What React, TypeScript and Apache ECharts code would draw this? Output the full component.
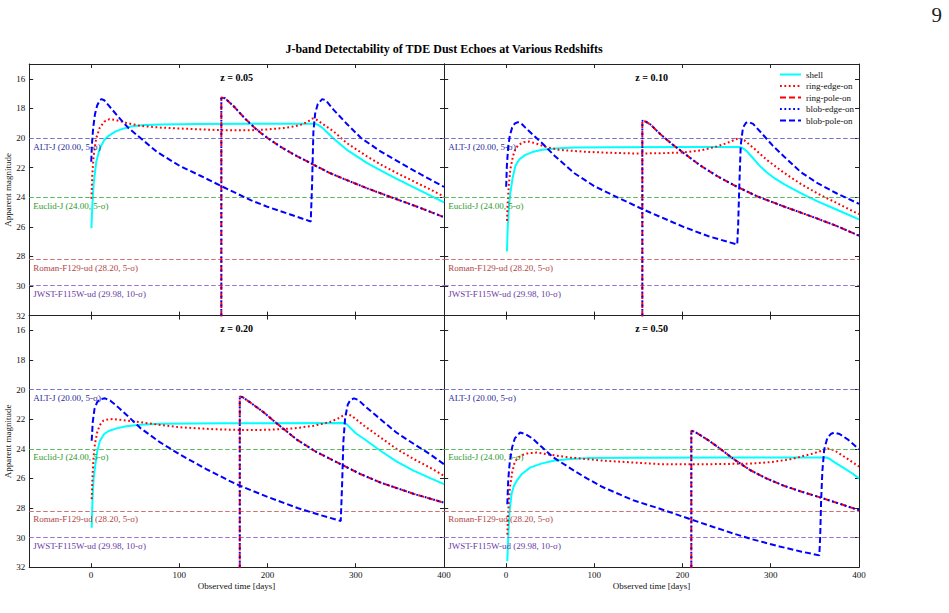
import React, { useEffect, useRef } from 'react';
import * as echarts from 'echarts';

// ---------- tick values & labels ----------
const xTicks = [0, 100, 200, 300, 400];
const yTicks = [16, 18, 20, 22, 24, 26, 28, 30, 32];
const redshiftLabels = ['z = 0.05', 'z = 0.10', 'z = 0.20', 'z = 0.50'];
const seriesNames = ['shell', 'ring-edge-on', 'ring-pole-on', 'blob-edge-on', 'blob-pole-on'];

// ---------- detection thresholds ----------
const thresholdNames = ['ALT-J', 'Euclid-J', 'Roman-F129-ud', 'JWST-F115W-ud'];
const thresholdValues = [20.0, 24.0, 28.2, 29.98];
const thresholdSigma = ['5-σ', '5-σ', '5-σ', '10-σ'];

// ---------- z = 0.05 ----------
const shell005 = [[0.5,26.1],[1.5,24.6],[3,23.1],[6,21.6],[10,20.7],[15,20.15],[20,19.85],[28,19.55],[35,19.4],[45,19.22],[60,19.12],[80,19.08],[120,19.05],[200,19.03],[253,19.03],[257,19.1],[262,19.3],[268,19.65],[275,20.05],[290,20.8],[313,21.7],[335,22.4],[351,22.9],[375,23.6],[400,24.35]];
const ringEdge005 = [[0.5,24.1],[1.5,22.5],[3,21.2],[6,20.0],[10,19.3],[15,18.9],[21,18.72],[28,18.78],[40,18.98],[56,19.18],[80,19.3],[101,19.36],[150,19.48],[180,19.48],[200,19.42],[218,19.33],[230,19.22],[238,19.1],[245,18.92],[251,18.68],[256,18.78],[265,19.15],[275,19.56],[290,20.35],[313,21.25],[330,21.85],[351,22.5],[375,23.2],[400,23.95]];
const ringPole005 = [[147.7,40],[147.7,17.26],[152,17.32],[162,17.87],[175,18.72],[188,19.45],[200,20.0],[215,20.6],[230,21.12],[249,21.7],[270,22.35],[290,22.85],[313,23.4],[340,24.0],[370,24.65],[400,25.35]];
const blobEdge005 = ringPole005; // coincides with ring-pole-on in the reference
const blobPole005 = [[0.3,21.6],[1,20.5],[2.5,19.3],[4.5,18.4],[7,17.8],[10,17.45],[12,17.37],[15,17.45],[20,17.8],[30,18.5],[42,19.3],[56,20.0],[75,20.95],[101,21.9],[124,22.55],[147,23.23],[181,24.2],[200,24.65],[225,25.15],[249,25.64],[250.5,23.2],[252,19.6],[254,18.35],[257,17.7],[262,17.37],[266,17.45],[275,18.1],[290,19.05],[306,20.0],[328,20.9],[351,21.7],[375,22.5],[400,23.3]];

// ---------- z = 0.10 ----------
const shell010 = [[1.1,27.67],[2,26.0],[3.5,24.5],[5,23.7],[7.5,22.7],[10.6,21.9],[15,21.45],[22,21.14],[30,20.95],[41,20.8],[60,20.7],[78,20.64],[120,20.62],[200,20.6],[264,20.6],[268,20.68],[273,20.9],[279,21.3],[287,21.85],[296,22.35],[305,22.75],[315,23.12],[334,23.72],[353,24.28],[375,24.85],[400,25.5]];
const ringEdge010 = [[1.1,25.6],[2,24.3],[3.5,23.0],[5,22.1],[8,21.2],[11,20.7],[14.4,20.46],[20,20.28],[25.7,20.24],[33,20.35],[45,20.6],[60,20.8],[90,20.93],[117,21.0],[150,21.05],[180,21.02],[201,20.98],[220,20.85],[239,20.57],[250,20.35],[258,20.15],[264,20.0],[270,20.15],[280,20.65],[296,21.5],[315,22.35],[334,23.1],[353,23.75],[375,24.4],[400,25.15]];
const ringPole010 = [[154.5,40],[154.5,18.84],[158,18.88],[164,19.1],[175,19.75],[188,20.4],[201,21.0],[220,21.85],[240,22.6],[262,23.3],[285,23.95],[315,24.63],[353,25.45],[375,25.95],[400,26.6]];
const blobEdge010 = ringPole010;
const blobPole010 = [[0.2,23.3],[1,21.9],[2.5,20.6],[4.5,19.8],[7,19.3],[10,19.02],[13.6,18.93],[17,19.0],[22,19.3],[30,19.75],[41,20.35],[55,21.2],[78,22.4],[100,23.25],[124,23.95],[154.5,24.8],[164,25.05],[201,26.0],[230,26.65],[262,27.2],[263,26.0],[264.5,23.0],[266,20.5],[268.5,19.3],[272,18.97],[275,18.92],[280,19.05],[290,19.7],[302,20.5],[315,21.25],[334,22.3],[353,23.05],[375,23.75],[400,24.45]];

// ---------- z = 0.20 ----------
const shell020 = [[0.8,29.33],[1.8,27.3],[3,26.0],[4.5,25.27],[7,24.2],[10.2,23.46],[15,23.0],[20,22.8],[29,22.62],[40,22.48],[55.7,22.37],[80,22.3],[150,22.27],[286.7,22.26],[290,22.35],[294,22.6],[300,22.95],[309.5,23.34],[328,24.13],[346,24.85],[366,25.49],[385,26.0],[400,26.39]];
const ringEdge020 = [[0.8,27.4],[1.8,25.8],[3,24.5],[4.5,23.68],[7,22.9],[10,22.4],[14,22.1],[20,22.0],[25.3,21.99],[35,22.05],[55.7,22.2],[80,22.4],[101,22.55],[140,22.68],[169,22.73],[200,22.72],[230,22.62],[252.6,22.44],[265,22.27],[271.6,22.17],[280,21.95],[288.6,21.65],[295,21.75],[309.5,22.44],[328,23.23],[346,24.0],[366,24.7],[385,25.3],[400,25.83]];
const ringPole020 = [[168.6,40],[168.6,20.47],[172,20.52],[180,20.85],[195.8,21.54],[210,22.26],[233.7,23.4],[255,24.2],[283,25.04],[305,25.7],[328,26.28],[366,27.05],[400,27.64]];
const blobEdge020 = ringPole020;
const blobPole020 = [[0.8,23.46],[2,22.2],[4,21.3],[7,20.85],[10,20.65],[16,20.59],[22,20.75],[30,21.15],[42,21.8],[56,22.6],[78,23.55],[101,24.4],[130,25.35],[158,26.2],[169,26.5],[200,27.25],[234,28.0],[260,28.48],[283,28.88],[284.5,26.5],[286,23.5],[288,21.9],[291,21.0],[294,20.7],[298,20.59],[303,20.7],[310,21.1],[328,22.0],[346,22.9],[366,23.68],[385,24.4],[400,25.04]];

// ---------- z = 0.50 ----------
const shell050 = [[1.5,31.6],[2.5,30.0],[3.5,28.8],[4.5,27.98],[6.5,27.0],[9,26.5],[12.1,26.17],[18,25.7],[27.3,25.27],[40,25.0],[53.8,24.81],[70,24.7],[91.7,24.63],[150,24.6],[250,24.59],[362.5,24.59],[366,24.65],[372,24.9],[383,25.3],[392,25.65],[400,26.0]];
const ringEdge050 = [[1.5,29.8],[2.5,28.3],[3.5,27.3],[4.5,26.6],[7,25.6],[9.5,25.0],[12.1,24.7],[17,24.45],[23.5,24.32],[34.9,24.25],[50,24.4],[72.7,24.59],[110,24.8],[175,25.04],[220,25.05],[277,25.0],[300,24.9],[322.7,24.7],[345.5,24.36],[357,24.15],[364.4,23.98],[372,24.1],[385,24.6],[400,25.2]];
const ringPole050 = [[210,40],[210,22.78],[214,22.85],[222,23.15],[230,23.45],[239.4,23.85],[258,24.7],[277,25.45],[295,26.0],[315,26.5],[335,26.9],[356.8,27.3],[380,27.75],[400,28.15]];
const blobEdge050 = ringPole050;
const blobPole050 = [[1.5,27.75],[2.5,26.2],[3.5,25.4],[4.5,24.81],[7,23.9],[10,23.3],[15.9,22.9],[22,23.0],[30,23.3],[40,23.85],[53.8,24.59],[70,25.2],[79,25.55],[91.7,26.0],[110,26.6],[129.5,27.1],[143,27.45],[160,27.78],[176,28.08],[209,28.76],[235,29.28],[258,29.73],[277,30.08],[310,30.6],[335,30.95],[355,31.2],[356,30.0],[357,27.64],[358.5,25.5],[360.6,24.03],[364,23.3],[368,23.0],[372,22.9],[378,23.0],[388,23.4],[400,24.03]];

const panelData = [
  [shell005, ringEdge005, ringPole005, blobEdge005, blobPole005],
  [shell010, ringEdge010, ringPole010, blobEdge010, blobPole010],
  [shell020, ringEdge020, ringPole020, blobEdge020, blobPole020],
  [shell050, ringEdge050, ringPole050, blobEdge050, blobPole050],
];

// ---------- styles / layout ----------
const FONT = '"Liberation Serif", "DejaVu Serif", serif';
const seriesStyles = [
  { color: '#00ffff', type: 'solid' as any },
  { color: '#ff0000', type: [1.8, 2.6] },
  { color: '#ff0000', type: [6, 3] },
  { color: '#0000ff', type: [1.8, 2.6] },
  { color: '#0000ff', type: [6, 3] },
];
const thresholdLineColors = ['#7474cc', '#5cb85c', '#d07070', '#a070d0'];
const thresholdTextColors = ['#2b2b99', '#2f9a2f', '#b04545', '#6b3aa3'];

const PW = 414.8;
const PH = 251.6;
const panelRects = [
  { left: 29.2, top: 64 },
  { left: 444.2, top: 64 },
  { left: 29.2, top: 64 + PH },
  { left: 444.2, top: 64 + PH },
];

export default function App() {
  const ref = useRef<HTMLDivElement>(null);

  useEffect(() => {
    if (!ref.current) return;
    const chart = echarts.init(ref.current, undefined, { renderer: 'svg' });

    const grids = panelRects.map((r) => ({
      left: r.left, top: r.top, width: PW, height: PH,
      show: false, containLabel: false, outerBoundsMode: 'none',
    }));

    const axisLineStyle = { show: true, onZero: false, lineStyle: { color: '#222', width: 1 } };
    const tickBase = { show: true, inside: true, length: 4, lineStyle: { color: '#222', width: 1 } };

    const xAxes: any[] = [];
    const yAxes: any[] = [];
    panelRects.forEach((_, p) => {
      const bottomRow = p >= 2;
      const leftCol = p % 2 === 0;
      xAxes[p] = {
        type: 'value', gridIndex: p, position: 'bottom', min: -70, max: 400,
        axisLine: axisLineStyle,
        axisTick: { ...tickBase, customValues: xTicks },
        axisLabel: {
          show: bottomRow, customValues: xTicks, margin: 3,
          fontFamily: FONT, fontSize: 9, color: '#111',
        },
        splitLine: { show: false },
        name: bottomRow ? 'Observed time [days]' : '',
        nameLocation: 'middle', nameGap: 14,
        nameTextStyle: { fontFamily: FONT, fontSize: 9, color: '#111' },
      };
      xAxes[p + 4] = {
        type: 'value', gridIndex: p, position: 'top', min: -70, max: 400,
        axisLine: axisLineStyle,
        axisTick: { ...tickBase, customValues: xTicks },
        axisLabel: { show: false },
        splitLine: { show: false },
      };
      yAxes[p] = {
        type: 'value', gridIndex: p, position: 'left', inverse: true, min: 15, max: 32,
        axisLine: axisLineStyle,
        axisTick: { ...tickBase, customValues: yTicks },
        axisLabel: {
          show: leftCol, customValues: yTicks, margin: 4,
          fontFamily: FONT, fontSize: 9, color: '#111',
        },
        splitLine: { show: false },
        name: leftCol ? 'Apparent magnitude' : '',
        nameLocation: 'middle', nameGap: 10, nameRotate: 90,
        nameTextStyle: { fontFamily: FONT, fontSize: 9, color: '#111' },
      };
      yAxes[p + 4] = {
        type: 'value', gridIndex: p, position: 'right', inverse: true, min: 15, max: 32,
        axisLine: axisLineStyle,
        axisTick: { ...tickBase, customValues: yTicks },
        axisLabel: { show: false },
        splitLine: { show: false },
      };
    });

    const series: any[] = [];
    panelData.forEach((curves, p) => {
      curves.forEach((data, s) => {
        const st = seriesStyles[s];
        const item: any = {
          name: seriesNames[s], type: 'line', xAxisIndex: p, yAxisIndex: p,
          data, symbol: 'none', showSymbol: false, clip: true, z: 3 + s,
          lineStyle: { color: st.color, width: 2, type: st.type, cap: 'butt' },
          itemStyle: { color: st.color },
          emphasis: { disabled: true },
        };
        if (s === 0) {
          item.markLine = {
            silent: true, symbol: ['none', 'none'], animation: false,
            data: thresholdValues.map((v, i) => ({
              yAxis: v,
              lineStyle: { color: thresholdLineColors[i], type: [4.5, 2.5], width: 1, opacity: 1 },
              label: {
                show: true, position: 'insideStartBottom', distance: [4, 4],
                formatter: `${thresholdNames[i]} (${v.toFixed(2)}, ${thresholdSigma[i]})`,
                color: thresholdTextColors[i], fontFamily: FONT, fontSize: 9,
              },
            })),
          };
        }
        series.push(item);
      });
    });

    const graphic: any[] = redshiftLabels.map((t, p) => ({
      type: 'text',
      x: panelRects[p].left + PW / 2,
      y: panelRects[p].top + 13,
      style: {
        text: t, font: `bold 10px ${FONT}`, fill: '#000',
        textAlign: 'center', textVerticalAlign: 'middle',
      },
      z: 20,
    }));
    graphic.push({
      type: 'text', x: 942, y: 4,
      style: { text: '9', font: `21px ${FONT}`, fill: '#222', textAlign: 'right', textVerticalAlign: 'top' },
    });

    chart.setOption({
      animation: false,
      backgroundColor: '#ffffff',
      title: {
        text: 'J-band Detectability of TDE Dust Echoes at Various Redshifts',
        left: 444, top: 43, textAlign: 'center', padding: 0,
        textStyle: { fontFamily: FONT, fontSize: 12, fontWeight: 'bold', color: '#000' },
      },
      legend: {
        data: seriesNames, orient: 'vertical', left: 779, top: 70,
        itemWidth: 21, itemHeight: 10, itemGap: 2.5, padding: 0,
        itemStyle: { opacity: 0 },
        textStyle: { fontFamily: FONT, fontSize: 9, color: '#111' },
        selectedMode: false,
      },
      grid: grids,
      xAxis: xAxes,
      yAxis: yAxes,
      series,
      graphic,
    });

    return () => chart.dispose();
  }, []);

  return (
    <div
      ref={ref}
      style={{ position: 'absolute', left: 0, top: 0, width: 949, height: 613 }}
    />
  );
}
